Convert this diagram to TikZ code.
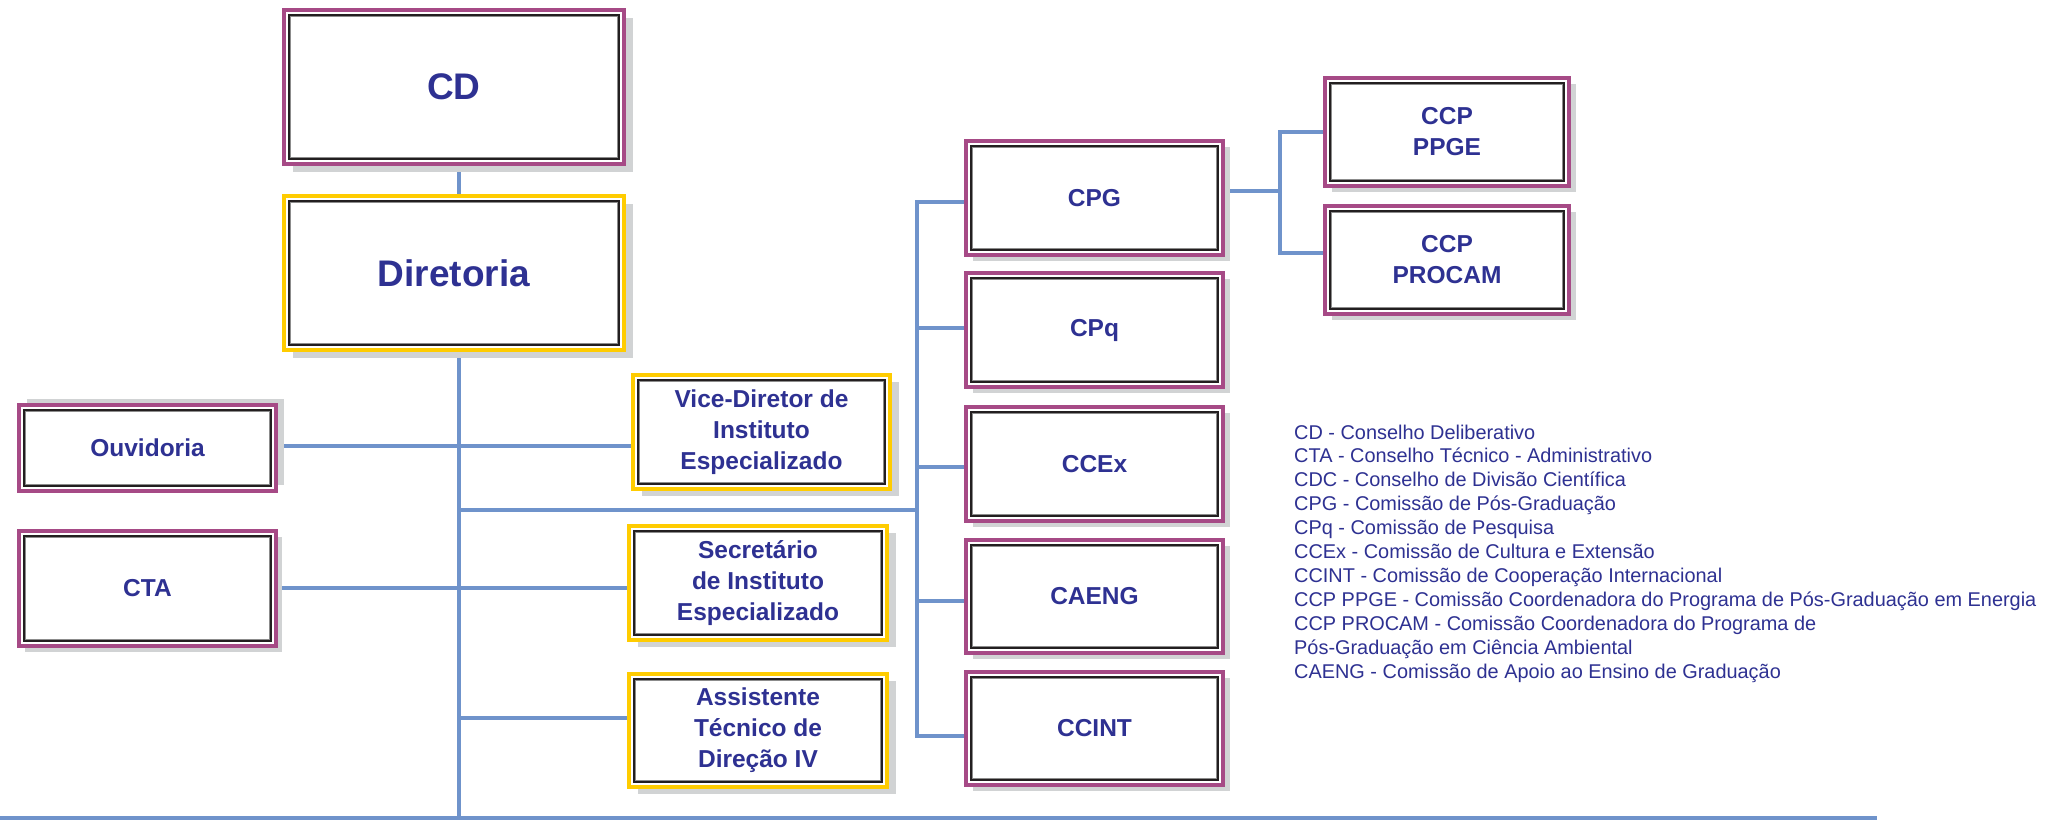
\documentclass[tikz,border=0pt]{standalone}
\usepackage{fontspec}
\setmainfont{Liberation Sans}
\usetikzlibrary{backgrounds}
\definecolor{magframe}{RGB}{166,74,134}
\definecolor{yelframe}{RGB}{255,204,0}
\definecolor{txtblue}{RGB}{46,49,146}
\definecolor{lineblue}{RGB}{111,147,203}
\definecolor{shadowgray}{RGB}{209,211,212}
\definecolor{innerblack}{RGB}{35,31,32}
\newcommand\lblfont{\bfseries\fontsize{24.5}{31}\selectfont}
\newcommand\bigfont{\bfseries\fontsize{37}{40}\selectfont}
\newcommand\legfont{\fontsize{19.9}{24}\selectfont}
\tikzset{
  orgbox/.style={rectangle, fill=white, line width=4pt, inner sep=0pt, align=center,
    text=txtblue, font=\lblfont,
    preaction={draw=none, fill=shadowgray, transform canvas={shift={(#1)}}},
    path picture={
      \draw[line width=1.8pt, draw=innerblack]
        ([shift={(5,5)}]path picture bounding box.north west) rectangle
        ([shift={(-5,-5)}]path picture bounding box.south east);
      \draw[line width=0.8pt, draw=black!45]
        ([shift={(6.6,6.6)}]path picture bounding box.north west) rectangle
        ([shift={(-6.6,-6.6)}]path picture bounding box.south east);
    }},
  orgbox/.default={8,7},
  magbox/.style={orgbox={#1}, draw=magframe},
  magbox/.default={7,6},
  yelbox/.style={orgbox={#1}, draw=yelframe},
  yelbox/.default={9,7},
  conn/.style={draw=lineblue, line width=4pt},
  legend/.style={text=txtblue, font=\legfont, inner sep=0pt, anchor=base west}
}
\begin{document}
\begin{tikzpicture}[x=1pt, y=-1pt]
\useasboundingbox (0,0) rectangle (2065,820);

% boxes
\node[magbox={9,8}, minimum width=340, minimum height=154, font=\bigfont] (CD) at (454,87) {CD};
\node[yelbox={9,8}, minimum width=340, minimum height=154, font=\bigfont] (Dir) at (454,273) {Diretoria};
\node[magbox={8,-6}, minimum width=257, minimum height=86] (Ouv) at (147.5,448) {Ouvidoria};
\node[magbox={6,6}, minimum width=257, minimum height=115] (CTA) at (147.5,588.5) {CTA};
\node[yelbox, minimum width=257, minimum height=114] (Vice) at (761.5,432) {Vice-Diretor de\\Instituto\\Especializado};
\node[yelbox, minimum width=258, minimum height=114] (Sec) at (758,583) {Secretário\\de Instituto\\Especializado};
\node[yelbox, minimum width=258, minimum height=113] (Asst) at (758,730.5) {Assistente\\Técnico de\\Direção IV};
\node[magbox, minimum width=257, minimum height=114] (CPG) at (1094.5,198) {CPG};
\node[magbox, minimum width=257, minimum height=114] (CPq) at (1094.5,330) {CPq};
\node[magbox, minimum width=257, minimum height=114] (CCEx) at (1094.5,464) {CCEx};
\node[magbox, minimum width=257, minimum height=113] (CAENG) at (1094.5,596.5) {CAENG};
\node[magbox, minimum width=257, minimum height=113] (CCINT) at (1094.5,728.5) {CCINT};
\node[magbox, minimum width=244, minimum height=108] (PPGE) at (1447,132) {CCP\\PPGE};
\node[magbox, minimum width=244, minimum height=108] (PROCAM) at (1447,260) {CCP\\PROCAM};

% junction coordinates
\coordinate (trunk) at (459,510);
\coordinate (bl) at (0,818);
\coordinate (br) at (1877,818);
\coordinate (jOuv) at (459,446);
\coordinate (jCTA) at (459,588);
\coordinate (jAsst) at (459,718);
\coordinate (rtop) at (917,202);
\coordinate (rbot) at (917,736);
\coordinate (bCPq) at (917,328);
\coordinate (bCCEx) at (917,467);
\coordinate (bCAENG) at (917,601);
\coordinate (sT) at (1280,132);
\coordinate (sM) at (1280,191);
\coordinate (sB) at (1280,253);

\begin{scope}[on background layer]
\fill[white] (0,0) rectangle (2065,820);
\draw[conn] (bl) -- (br);
\draw[conn] (CD.south -| trunk) -- (Dir.north -| trunk);
\draw[conn] (Dir.south -| trunk) -- (trunk |- bl);
\draw[conn] (jOuv -| Ouv.east) -- (jOuv -| Vice.west);
\draw[conn] (jCTA -| CTA.east) -- (jCTA -| Sec.west);
\draw[conn] (jAsst) -- (jAsst -| Asst.west);
\draw[conn] (trunk) -- (trunk -| rtop);
\draw[conn] (rtop -| CPG.west) -- (rtop) -- (rbot) -- (rbot -| CCINT.west);
\draw[conn] (bCPq) -- (bCPq -| CPq.west);
\draw[conn] (bCCEx) -- (bCCEx -| CCEx.west);
\draw[conn] (bCAENG) -- (bCAENG -| CAENG.west);
\draw[conn] (sM -| CPG.east) -- (sM);
\draw[conn] (sT -| PPGE.west) -- (sT) -- (sB) -- (sB -| PROCAM.west);
\end{scope}

% legend
\foreach \t [count=\i] in {
  CD - Conselho Deliberativo,
  CTA - Conselho Técnico - Administrativo,
  CDC - Conselho de Divisão Científica,
  CPG - Comissão de Pós-Graduação,
  CPq - Comissão de Pesquisa,
  CCEx - Comissão de Cultura e Extensão,
  CCINT - Comissão de Cooperação Internacional,
  CCP PPGE - Comissão Coordenadora do Programa de Pós-Graduação em Energia,
  CCP PROCAM - Comissão Coordenadora do Programa de,
  Pós-Graduação em Ciência Ambiental,
  CAENG - Comissão de Apoio ao Ensino de Graduação}
  \node[legend] (leg\i) at (1294,{439+23.9*(\i-1)}) {\t};
\end{tikzpicture}
\end{document}
